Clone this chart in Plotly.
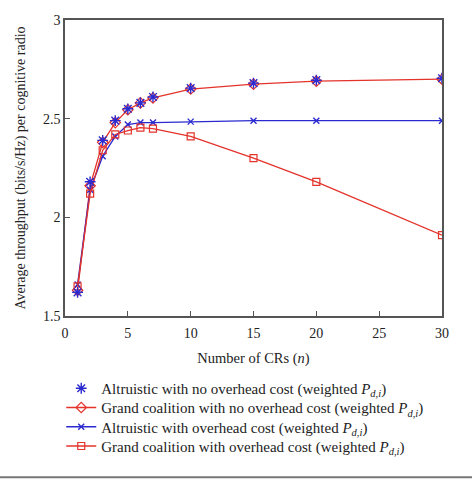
import plotly.graph_objects as go

n_vals = [1, 2, 3, 4, 5, 6, 7, 10, 15, 20, 30]
altruistic_no_overhead = [1.62, 2.18, 2.39, 2.49, 2.55, 2.58, 2.61, 2.655, 2.68, 2.695, 2.705]
grand_no_overhead = [1.63, 2.16, 2.38, 2.48, 2.545, 2.58, 2.605, 2.65, 2.675, 2.69, 2.70]
altruistic_overhead = [1.66, 2.14, 2.31, 2.41, 2.47, 2.48, 2.48, 2.485, 2.49, 2.49, 2.49]
grand_overhead = [1.65, 2.12, 2.34, 2.42, 2.44, 2.455, 2.45, 2.41, 2.30, 2.18, 1.91]

names = [
    "Altruistic with no overhead cost (weighted <i>P</i><sub><i>d</i>,<i>i</i></sub>)",
    "Grand coalition with no overhead cost (weighted <i>P</i><sub><i>d</i>,<i>i</i></sub>)",
    "Altruistic with overhead cost (weighted <i>P</i><sub><i>d</i>,<i>i</i></sub>)",
    "Grand coalition with overhead cost (weighted <i>P</i><sub><i>d</i>,<i>i</i></sub>)",
]

RED = "#e3332b"
BLUE = "#2a2ad0"
FONT = "Liberation Serif"

fig = go.Figure()
fig.add_trace(go.Scatter(x=n_vals, y=grand_no_overhead, mode="lines+markers", name=names[1],
                         line=dict(color=RED, width=1.3),
                         marker=dict(symbol="diamond-open", size=8, color=RED, line=dict(width=1.2)),
                         legend="legend2"))
fig.add_trace(go.Scatter(x=n_vals, y=altruistic_overhead, mode="lines+markers", name=names[2],
                         line=dict(color=BLUE, width=1.3),
                         marker=dict(symbol="x-thin-open", size=6, color=BLUE, line=dict(width=1.4, color=BLUE)),
                         legend="legend3"))
fig.add_trace(go.Scatter(x=n_vals, y=grand_overhead, mode="lines+markers", name=names[3],
                         line=dict(color=RED, width=1.3),
                         marker=dict(symbol="square-open", size=7, color=RED, line=dict(width=1.2)),
                         legend="legend4"))
fig.add_trace(go.Scatter(x=n_vals, y=altruistic_no_overhead, mode="markers", name=names[0],
                         marker=dict(symbol="asterisk-open", size=9, color=BLUE, line=dict(width=1.4, color=BLUE)),
                         legend="legend"))

axis_common = dict(showline=True, mirror=True, linecolor="#555555", linewidth=1.5,
                   ticks="inside", ticklen=5, tickcolor="#555555", showgrid=False, zeroline=False,
                   tickfont=dict(family=FONT, size=14, color="#222222"))

leg_common = dict(x=-0.01, xanchor="left", yanchor="middle", bgcolor="rgba(0,0,0,0)",
                  font=dict(family=FONT, size=15), itemwidth=30)

fig.update_layout(
    width=472, height=483,
    margin=dict(l=65, r=30, t=20, b=167),
    paper_bgcolor="white", plot_bgcolor="white",
    font=dict(family=FONT, size=13, color="#222222"),
    xaxis=dict(range=[0, 30], tickvals=[0, 5, 10, 15, 20, 25, 30], ticklabelstandoff=3,
               title=dict(text="Number of CRs (<i>n</i>)", font=dict(family=FONT, size=14.5), standoff=13),
               **axis_common),
    yaxis=dict(range=[1.5, 3], tickvals=[1.5, 2, 2.5, 3], ticktext=["1.5", "2", "2.5", "3"],
               title=dict(text="Average throughput (bits/s/Hz) per cognitive radio",
                          font=dict(family=FONT, size=14), standoff=14),
               **axis_common),
    legend=dict(y=-0.245, **leg_common),
    legend2=dict(y=-0.31, **leg_common),
    legend3=dict(y=-0.375, **leg_common),
    legend4=dict(y=-0.44, **leg_common),
    showlegend=True,
)

fig.add_shape(type="line", xref="paper", yref="paper", x0=-0.2, x1=1.1, y0=-0.545, y1=-0.545,
              line=dict(color="#777777", width=2))

fig.write_html("out.html")
